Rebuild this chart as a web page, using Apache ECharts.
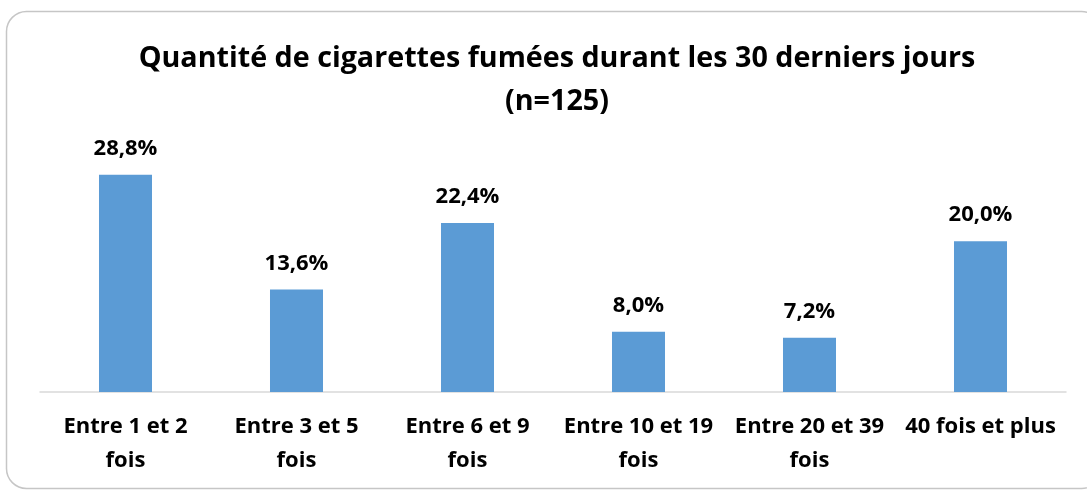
<!DOCTYPE html>
<html>
<head>
<meta charset="utf-8">
<script src="https://cdn.jsdelivr.net/npm/echarts@6/dist/echarts.min.js"></script>
<style>
  html, body { margin: 0; padding: 0; background: #fff; }
  #chart { width: 1087px; height: 491px; }
</style>
</head>
<body>
<div id="chart"></div>
<script>
const categories = ['Entre 1 et 2\nfois', 'Entre 3 et 5\nfois', 'Entre 6 et 9\nfois', 'Entre 10 et 19\nfois', 'Entre 20 et 39\nfois', '40 fois et plus']
const values = [28.8, 13.6, 22.4, 8.0, 7.2, 20.0]

const font = '"Open Sans", "Noto Sans", sans-serif'

const chart = echarts.init(document.getElementById('chart'))
chart.setOption({
  animation: false,
  textStyle: { fontFamily: font },
  title: {
    text: 'Quantité de cigarettes fumées durant les 30 derniers jours\n(n=125)',
    left: 552, // title centre sits a bit right of the chart centre
    textAlign: 'center',
    top: 32,
    textStyle: {
      fontFamily: font,
      fontSize: 28.7,
      fontWeight: 'bold',
      color: '#000',
      lineHeight: 43
    }
  },
  graphic: [{
    type: 'rect',
    shape: { x: 6.5, y: 11.5, width: 1095, height: 477, r: 20 },
    style: { fill: 'none', stroke: '#c6c6c6', lineWidth: 1.5 },
    silent: true
  }],
  grid: { left: 40, right: 21, top: 128, bottom: 99 },
  xAxis: {
    type: 'category',
    data: categories,
    axisLine: { lineStyle: { color: '#d9d9d9', width: 1.5 } },
    axisTick: { show: false },
    axisLabel: {
      interval: 0,
      color: '#000',
      fontFamily: font,
      fontSize: 22,
      fontWeight: 'bold',
      lineHeight: 34,
      margin: 18
    }
  },
  yAxis: {
    type: 'value',
    min: 0,
    max: 35,
    show: false
  },
  series: [{
    type: 'bar',
    data: values,
    barWidth: '31%',
    itemStyle: { color: '#5b9bd5' },
    label: {
      show: true,
      position: 'top',
      distance: 15,
      color: '#000',
      fontFamily: font,
      fontSize: 22,
      fontWeight: 'bold',
      formatter: p => p.value.toFixed(1).replace('.', ',') + '%'
    }
  }]
})
</script>
</body>
</html>
